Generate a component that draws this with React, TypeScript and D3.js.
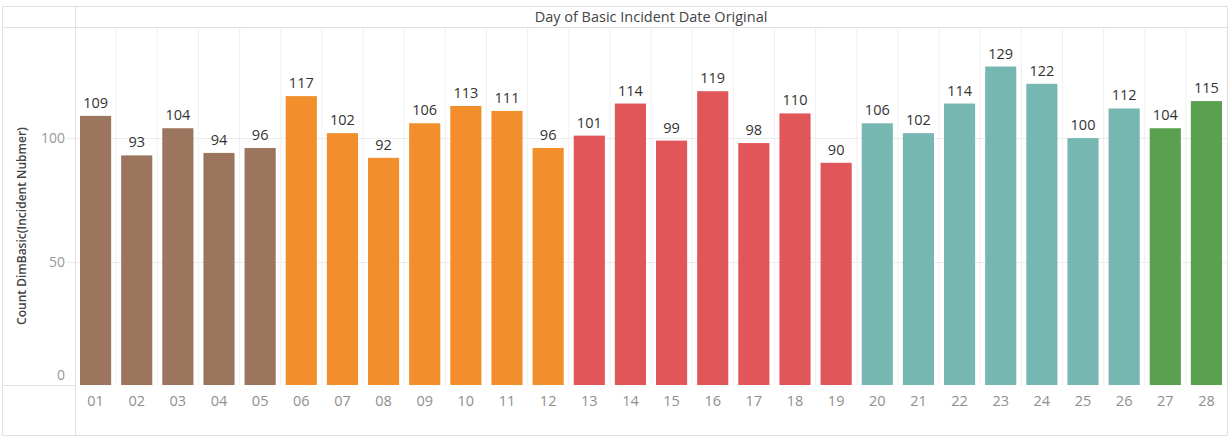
// App.tsx - daily incident counts, Tableau style bar chart

import React, { useEffect, useRef } from "react";
import * as d3 from "d3";

const days = ["01","02","03","04","05","06","07","08","09","10","11","12","13","14","15","16","17","18","19","20","21","22","23","24","25","26","27","28"];
const counts = [109, 93, 104, 94, 96, 117, 102, 92, 106, 113, 111, 96, 101, 114, 99, 119, 98, 110, 90, 106, 102, 114, 129, 122, 100, 112, 104, 115];
const weekOfDay = [0,0,0,0,0,1,1,1,1,1,1,1,2,2,2,2,2,2,2,3,3,3,3,3,3,3,4,4];
const weekColors = ["#9c755f", "#f28e2b", "#e15759", "#76b7b2", "#59a14f"];
const yTicks = [0, 50, 100];

const W = 1231;
const H = 440;

const App = () => {
  const ref = useRef<SVGSVGElement>(null);

  useEffect(() => {
    const svg = d3.select(ref.current);
    svg.selectAll("*").remove();

    const font = "'Open Sans', 'Noto Sans', sans-serif";
    const left = 2, right = 1227, top = 6, bottom = 435;
    const paneLeft = 75, headerBottom = 27, baseline = 385;

    const x = d3.scaleBand().domain(days).range([paneLeft, right]).paddingInner(0).paddingOuter(0);
    const y = d3.scaleLinear().domain([0, 145]).range([baseline, headerBottom]);

    const frame = "#e1e1e1";
    const divider = "#f0f0f0";

    // column dividers
    svg.append("g")
      .selectAll("line")
      .data(days)
      .enter()
      .append("line")
      .attr("x1", (d) => x(d)! + x.bandwidth())
      .attr("x2", (d) => x(d)! + x.bandwidth())
      .attr("y1", headerBottom)
      .attr("y2", baseline)
      .attr("stroke", divider);

    // grid lines
    svg.append("g")
      .selectAll("line")
      .data(yTicks.filter((t) => t > 0))
      .enter()
      .append("line")
      .attr("x1", 67)
      .attr("x2", right)
      .attr("y1", (d) => Math.round(y(d)) + 0.5)
      .attr("y2", (d) => Math.round(y(d)) + 0.5)
      .attr("stroke", "#ececec");

    // bars
    const pad = 5;
    svg.append("g")
      .selectAll("rect")
      .data(days)
      .enter()
      .append("rect")
      .attr("x", (d) => x(d)! + pad)
      .attr("width", x.bandwidth() - pad * 2)
      .attr("y", (d, i) => y(counts[i]))
      .attr("height", (d, i) => baseline - y(counts[i]))
      .attr("fill", (d, i) => weekColors[weekOfDay[i]]);

    // value labels
    svg.append("g")
      .selectAll("text")
      .data(days)
      .enter()
      .append("text")
      .attr("x", (d) => x(d)! + x.bandwidth() / 2)
      .attr("y", (d, i) => y(counts[i]) - 8)
      .attr("text-anchor", "middle")
      .attr("font-family", font)
      .attr("font-size", 14.5)
      .attr("fill", "#333")
      .text((d, i) => counts[i]);

    // x labels
    svg.append("g")
      .selectAll("text")
      .data(days)
      .enter()
      .append("text")
      .attr("x", (d) => x(d)! + x.bandwidth() / 2)
      .attr("y", 406)
      .attr("text-anchor", "middle")
      .attr("font-family", font)
      .attr("font-size", 14.5)
      .attr("fill", "#8f8f8f")
      .text((d) => d);

    // y tick labels
    svg.append("g")
      .selectAll("text")
      .data(yTicks)
      .enter()
      .append("text")
      .attr("x", 65)
      .attr("y", (d) => (d === 0 ? 380 : y(d) + 5))
      .attr("text-anchor", "end")
      .attr("font-family", font)
      .attr("font-size", 14)
      .attr("fill", "#999")
      .text((d) => d);

    // frame lines
    const lines: [number, number, number, number][] = [
      [left, top, right, top],
      [left, headerBottom, right, headerBottom],
      [left, bottom, right, bottom],
      [left, top, left, bottom],
      [right, top, right, bottom],
      [paneLeft, top, paneLeft, bottom],
      [left, baseline, paneLeft, baseline],
    ];
    svg.append("g")
      .selectAll("line")
      .data(lines)
      .enter()
      .append("line")
      .attr("x1", (d) => d[0] + 0.5)
      .attr("y1", (d) => d[1] + 0.5)
      .attr("x2", (d) => d[2] + 0.5)
      .attr("y2", (d) => d[3] + 0.5)
      .attr("stroke", frame);

    // header title
    svg.append("text")
      .attr("x", (paneLeft + right) / 2)
      .attr("y", 21.5)
      .attr("text-anchor", "middle")
      .attr("font-family", font)
      .attr("font-size", 14.5)
      .attr("fill", "#444")
      .text("Day of Basic Incident Date Original");

    // y axis title
    svg.append("text")
      .attr("transform", `translate(26, 226) rotate(-90)`)
      .attr("text-anchor", "middle")
      .attr("font-family", font)
      .attr("font-size", 12)
      .attr("font-weight", 600)
      .attr("fill", "#444")
      .text("Count DimBasic(Incident Nubmer)");
  }, []);

  return (
    <svg
      ref={ref}
      width={W}
      height={H}
      style={{ position: "absolute", left: 0, top: 0, background: "#fff" }}
    ></svg>
  );
};

export default App;
